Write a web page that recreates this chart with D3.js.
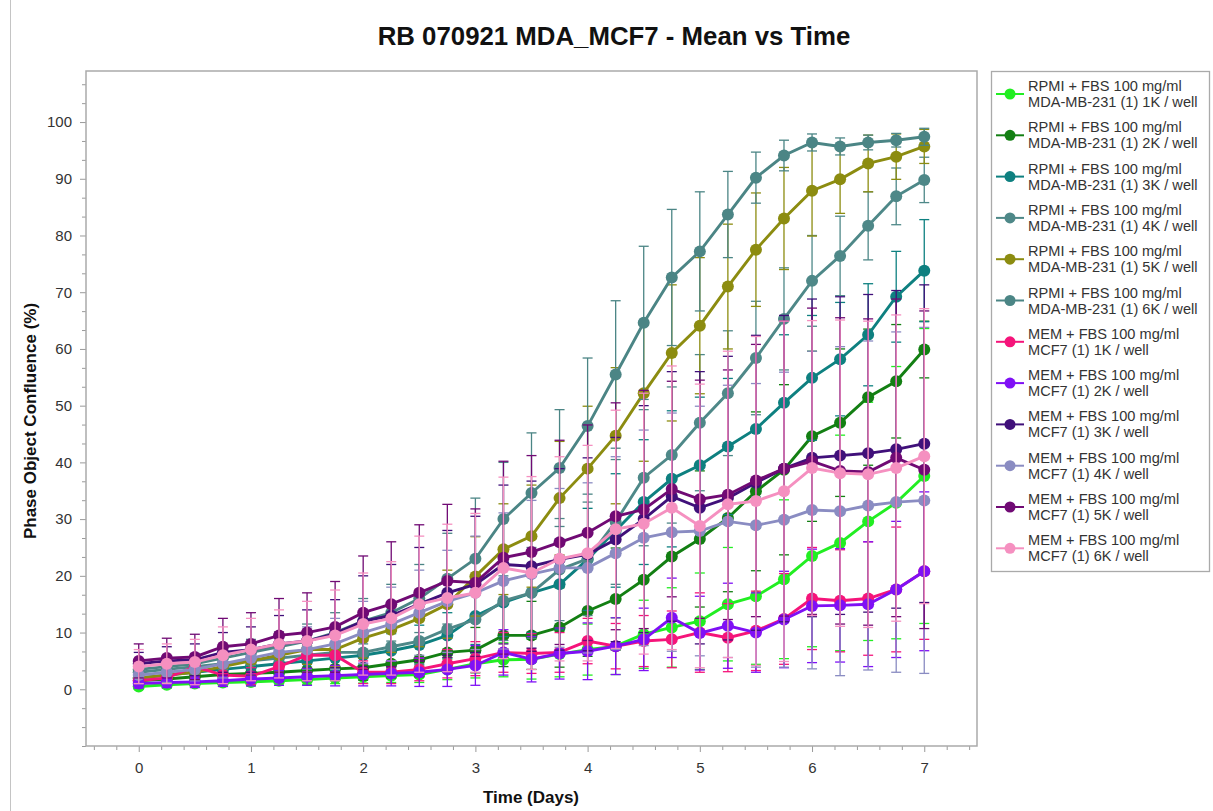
<!DOCTYPE html>
<html>
<head>
<meta charset="utf-8">
<script src="https://cdn.jsdelivr.net/npm/d3@7"></script>
<style>
  body { margin: 0; background: #fff; }
  svg { display: block; font-family: "Liberation Sans", Arial, sans-serif; }
</style>
</head>
<body>
<div id="chart"></div>
<script>
// time points (days)
const times = [0, 0.25, 0.5, 0.75, 1, 1.25, 1.5, 1.75, 2, 2.25, 2.5, 2.75, 3, 3.25, 3.5, 3.75, 4, 4.25, 4.5, 4.75, 5, 5.25, 5.5, 5.75, 6, 6.25, 6.5, 6.75, 7];

const xTicks = [0, 1, 2, 3, 4, 5, 6, 7];
const yTicks = [0, 10, 20, 30, 40, 50, 60, 70, 80, 90, 100];

const mediumLabels = [
  "RPMI + FBS 100 mg/ml", "RPMI + FBS 100 mg/ml", "RPMI + FBS 100 mg/ml",
  "RPMI + FBS 100 mg/ml", "RPMI + FBS 100 mg/ml", "RPMI + FBS 100 mg/ml",
  "MEM + FBS 100 mg/ml", "MEM + FBS 100 mg/ml", "MEM + FBS 100 mg/ml",
  "MEM + FBS 100 mg/ml", "MEM + FBS 100 mg/ml", "MEM + FBS 100 mg/ml"
];
const cellLabels = [
  "MDA-MB-231 (1) 1K / well", "MDA-MB-231 (1) 2K / well", "MDA-MB-231 (1) 3K / well",
  "MDA-MB-231 (1) 4K / well", "MDA-MB-231 (1) 5K / well", "MDA-MB-231 (1) 6K / well",
  "MCF7 (1) 1K / well", "MCF7 (1) 2K / well", "MCF7 (1) 3K / well",
  "MCF7 (1) 4K / well", "MCF7 (1) 5K / well", "MCF7 (1) 6K / well"
];
const colors = ["#22ee22", "#137f13", "#0e8080", "#4e8888", "#8c8c10", "#4b8585",
                "#f5147a", "#7f10f5", "#40107a", "#8a8cc2", "#700a74", "#f590c0"];

// mean confluence (%)
const mda1k = [0.5, 0.8, 1.0, 1.2, 1.3, 1.5, 1.7, 2.0, 2.2, 2.4, 2.6, 3.5, 4.5, 5.2, 5.3, 6.2, 7.0, 7.6, 9.7, 10.9, 12.0, 15.0, 16.4, 19.4, 23.5, 25.8, 29.6, 32.9, 37.6];
const mda2k = [1.5, 1.8, 2.2, 2.6, 2.8, 3.0, 3.3, 3.6, 3.8, 4.5, 5.2, 6.5, 6.9, 9.5, 9.5, 10.9, 13.8, 15.9, 19.3, 23.4, 26.5, 30.2, 34.9, 38.7, 44.6, 47.0, 51.5, 54.3, 59.9];
const mda3k = [2.0, 2.5, 3.0, 3.5, 4.0, 4.5, 5.0, 5.5, 6.0, 6.8, 7.8, 9.5, 12.9, 15.3, 17.0, 18.5, 22.9, 28.0, 33.0, 37.1, 39.5, 42.8, 45.9, 50.5, 54.9, 58.2, 62.5, 69.2, 73.8];
const mda4k = [3.0, 3.5, 4.0, 4.5, 5.0, 5.5, 6.0, 6.5, 6.5, 7.5, 8.5, 10.6, 12.3, 15.6, 17.0, 21.1, 23.0, 29.5, 37.3, 41.3, 47.0, 52.2, 58.4, 65.3, 72.0, 76.4, 81.7, 86.9, 89.8];
const mda5k = [2.0, 2.5, 3.0, 4.0, 5.0, 6.0, 7.0, 7.0, 9.0, 10.5, 12.5, 15.0, 19.9, 24.7, 27.0, 33.7, 38.9, 44.7, 52.2, 59.3, 64.1, 71.0, 77.5, 83.0, 87.9, 89.9, 92.7, 93.9, 95.7];
const mda6k = [3.5, 4.0, 4.5, 5.5, 6.5, 7.5, 8.5, 10.0, 12.0, 13.5, 16.0, 19.5, 23.0, 30.0, 34.6, 39.0, 46.4, 55.5, 64.6, 72.6, 77.2, 83.7, 90.2, 94.1, 96.4, 95.7, 96.4, 96.8, 97.4];
const mcf1k = [1.5, 2.0, 4.0, 2.5, 2.3, 4.0, 6.0, 6.0, 3.0, 3.0, 3.5, 4.5, 5.4, 6.5, 6.3, 6.5, 8.5, 7.6, 8.5, 8.8, 10.0, 9.1, 10.3, 12.4, 16.0, 15.6, 16.0, 17.6, 20.8];
const mcf2k = [1.0, 1.2, 1.3, 1.5, 1.8, 2.0, 2.2, 2.4, 2.6, 2.8, 3.0, 3.5, 4.2, 6.5, 5.3, 6.3, 6.7, 7.6, 8.8, 12.6, 9.9, 11.2, 10.0, 12.3, 14.7, 14.8, 15.0, 17.6, 20.8];
const mcf3k = [4.5, 5.0, 5.2, 6.5, 7.0, 8.0, 8.5, 9.8, 12.0, 13.0, 15.0, 17.0, 18.5, 22.0, 21.7, 22.9, 23.8, 26.4, 30.0, 34.0, 32.0, 33.7, 36.4, 38.9, 40.8, 41.2, 41.6, 42.3, 43.3];
const mcf4k = [2.5, 3.0, 3.5, 4.5, 5.5, 6.5, 7.0, 8.0, 10.0, 11.5, 13.5, 15.5, 17.0, 19.1, 20.3, 21.4, 21.4, 24.0, 26.7, 27.7, 27.9, 29.6, 28.9, 29.9, 31.6, 31.4, 32.4, 33.0, 33.3];
const mcf5k = [5.0, 5.5, 5.7, 7.5, 8.0, 9.5, 10.0, 11.0, 13.5, 15.0, 17.0, 19.1, 18.8, 23.2, 24.2, 25.9, 27.6, 30.5, 31.7, 35.3, 33.5, 34.3, 36.8, 38.9, 40.2, 38.5, 38.3, 40.8, 38.7];
const mcf6k = [4.0, 4.5, 4.8, 6.0, 7.0, 8.0, 8.5, 9.5, 11.5, 12.5, 15.0, 16.1, 17.0, 21.4, 20.5, 23.0, 24.0, 28.2, 29.2, 32.0, 28.8, 32.6, 33.2, 34.9, 39.0, 38.1, 37.9, 39.0, 41.1];

// standard deviations
const mda1kSd = [0.5, 0.6, 0.6, 0.7, 0.7, 0.8, 0.9, 1.0, 1.1, 1.2, 1.4, 1.8, 2.5, 3.0, 3.5, 4.0, 4.5, 5.0, 6.0, 7.0, 8.5, 10.0, 12.0, 14.0, 16.0, 19.0, 21.0, 24.0, 26.0];
const mda2kSd = [1.0, 1.0, 1.2, 1.3, 1.5, 1.6, 1.8, 2.0, 2.2, 2.5, 3.0, 3.5, 4.0, 5.5, 6.0, 7.0, 8.0, 9.0, 10.0, 11.0, 12.0, 13.0, 14.0, 15.0, 15.0, 13.0, 12.0, 10.0, 5.0];
const mda3kSd = [1.2, 1.2, 1.3, 1.5, 1.6, 1.8, 2.0, 2.2, 2.5, 3.0, 3.5, 4.0, 5.0, 6.0, 7.0, 8.0, 9.0, 10.0, 11.0, 12.0, 12.0, 12.0, 12.0, 12.0, 11.0, 10.0, 9.0, 8.0, 9.0];
const mda4kSd = [1.5, 1.5, 1.6, 1.8, 2.0, 2.2, 2.5, 2.8, 3.0, 3.5, 4.0, 5.0, 6.0, 7.0, 8.0, 9.0, 10.0, 11.0, 12.0, 12.0, 12.0, 11.0, 10.0, 9.0, 8.0, 7.0, 6.0, 5.0, 4.0];
const mda5kSd = [1.2, 1.3, 1.5, 1.7, 2.0, 2.3, 2.6, 3.0, 3.5, 4.0, 5.0, 6.0, 7.0, 8.0, 9.0, 10.0, 11.0, 12.0, 12.0, 12.0, 12.0, 11.0, 10.0, 9.0, 8.0, 6.0, 5.0, 4.0, 3.0];
const mda6kSd = [1.5, 1.6, 1.8, 2.0, 2.3, 2.6, 3.0, 3.5, 4.0, 5.0, 6.0, 8.0, 10.7, 10.0, 10.6, 10.3, 12.0, 13.0, 13.5, 12.0, 10.5, 7.6, 4.5, 2.7, 1.5, 1.5, 1.3, 1.2, 1.5];
const mcf1kSd = [1.0, 1.0, 2.0, 1.5, 1.5, 2.0, 3.0, 3.0, 2.0, 2.0, 2.0, 2.5, 3.0, 3.5, 3.5, 3.5, 4.0, 4.0, 4.5, 5.0, 7.0, 6.0, 7.0, 8.0, 9.0, 9.0, 10.0, 11.0, 12.0];
const mcf2kSd = [0.8, 0.9, 1.0, 1.0, 1.2, 1.3, 1.5, 1.8, 2.0, 2.2, 2.5, 3.0, 3.5, 4.0, 4.0, 4.5, 5.0, 5.0, 5.5, 7.0, 6.5, 7.5, 7.0, 8.5, 10.0, 10.0, 11.0, 12.0, 14.0];
const mcf3kSd = [2.0, 2.5, 2.8, 3.5, 4.0, 5.0, 5.5, 6.0, 8.0, 9.0, 10.0, 11.0, 12.0, 14.0, 15.0, 16.0, 17.0, 18.0, 20.0, 22.0, 24.0, 25.0, 26.0, 27.0, 28.0, 28.0, 28.0, 28.0, 28.0];
const mcf4kSd = [1.5, 1.8, 2.0, 2.5, 3.0, 3.5, 4.0, 4.5, 5.5, 6.5, 7.5, 9.0, 10.0, 12.0, 13.0, 14.0, 15.0, 17.0, 19.0, 21.0, 22.0, 24.0, 25.0, 26.0, 28.0, 29.0, 29.0, 30.0, 30.5];
const mcf5kSd = [3.0, 3.5, 4.0, 5.0, 5.5, 6.5, 7.0, 8.0, 10.0, 11.0, 12.0, 13.5, 13.0, 17.0, 17.0, 18.0, 19.0, 20.0, 21.0, 19.0, 21.0, 22.0, 24.0, 26.0, 27.0, 27.0, 27.0, 28.0, 28.0];
const mcf6kSd = [3.0, 3.5, 4.0, 5.0, 5.5, 6.0, 7.0, 8.0, 9.0, 10.0, 12.0, 13.0, 14.0, 16.0, 17.0, 18.0, 19.0, 21.0, 23.0, 25.0, 25.0, 27.0, 29.0, 30.0, 26.0, 27.0, 27.0, 27.0, 26.0];

const means = [mda1k, mda2k, mda3k, mda4k, mda5k, mda6k, mcf1k, mcf2k, mcf3k, mcf4k, mcf5k, mcf6k];
const sds = [mda1kSd, mda2kSd, mda3kSd, mda4kSd, mda5kSd, mda6kSd, mcf1kSd, mcf2kSd, mcf3kSd, mcf4kSd, mcf5kSd, mcf6kSd];

const series = means.map((m, i) => ({
  color: colors[i],
  medium: mediumLabels[i],
  cells: cellLabels[i],
  points: times.map((t, j) => ({ t: t, v: m[j], sd: sds[i][j] }))
}));

const width = 1213, height = 811;
const plot = { left: 86, right: 977, top: 71, bottom: 746 };

const svg = d3.select("#chart").append("svg")
  .attr("width", width)
  .attr("height", height);

// outer panel border
svg.append("rect")
  .attr("x", 10.5).attr("y", -5)
  .attr("width", 1300).attr("height", 900)
  .attr("fill", "none").attr("stroke", "#c4c4c4");

const x = d3.scaleLinear().domain([-0.47, 7.47]).range([plot.left, plot.right]);
const y = d3.scaleLinear().domain([-10, 109]).range([plot.bottom, plot.top]);

// title
svg.append("text")
  .attr("x", 614).attr("y", 45)
  .attr("text-anchor", "middle")
  .attr("font-size", 25.8).attr("font-weight", "bold")
  .attr("fill", "#111")
  .text("RB 070921 MDA_MCF7 - Mean vs Time");

// axes
const axisColor = "#9a9a9a";
const yMinor = d3.range(-10, 109, 10 / 3).filter(v => !yTicks.some(t => Math.abs(t - v) < 0.01));
const xMinor = d3.range(-0.4, 7.45, 0.2).filter(v => !xTicks.some(t => Math.abs(t - v) < 0.01));

const gy = svg.append("g").attr("transform", `translate(${plot.left},0)`);
gy.call(d3.axisLeft(y).tickValues(yTicks).tickSize(6).tickPadding(8));
gy.append("g").call(d3.axisLeft(y).tickValues(yMinor).tickSize(4).tickFormat(""));

const gx = svg.append("g").attr("transform", `translate(0,${plot.bottom})`);
gx.call(d3.axisBottom(x).tickValues(xTicks).tickSize(6).tickPadding(10));
gx.append("g").call(d3.axisBottom(x).tickValues(xMinor).tickSize(4).tickFormat(""));

svg.selectAll(".domain").remove();
svg.selectAll(".tick line").attr("stroke", axisColor);
svg.selectAll(".tick text")
  .attr("font-family", "'Liberation Sans', Arial, sans-serif")
  .attr("font-size", 15).attr("fill", "#333");

// plot frame
svg.append("rect")
  .attr("x", plot.left).attr("y", plot.top)
  .attr("width", plot.right - plot.left).attr("height", plot.bottom - plot.top)
  .attr("fill", "none").attr("stroke", "#aaaaaa").attr("stroke-width", 1.5);

// axis titles
svg.append("text")
  .attr("x", 531).attr("y", 803)
  .attr("text-anchor", "middle")
  .attr("font-size", 17).attr("font-weight", "bold").attr("fill", "#111")
  .text("Time (Days)");

svg.append("text")
  .attr("transform", "translate(36,421) rotate(-90)")
  .attr("text-anchor", "middle")
  .attr("font-size", 17).attr("font-weight", "bold").attr("fill", "#111")
  .text("Phase Object Confluence (%)");

// series
const line = d3.line().x(d => x(d.t)).y(d => y(d.v));
const cap = 5;

const gs = svg.append("g").selectAll("g").data(series).join("g");

gs.each(function(s) {
  const g = d3.select(this);
  const eb = g.append("g").attr("stroke", s.color).attr("stroke-width", 1.3);
  s.points.forEach(p => {
    const lo = y(p.v - p.sd), hi = y(p.v + p.sd), cx = x(p.t);
    eb.append("line").attr("x1", cx).attr("x2", cx).attr("y1", lo).attr("y2", hi);
    eb.append("line").attr("x1", cx - cap).attr("x2", cx + cap).attr("y1", lo).attr("y2", lo);
    eb.append("line").attr("x1", cx - cap).attr("x2", cx + cap).attr("y1", hi).attr("y2", hi);
  });
  g.append("path")
    .attr("d", line(s.points))
    .attr("fill", "none")
    .attr("stroke", s.color)
    .attr("stroke-width", 2.9);
  g.selectAll("circle").data(s.points).join("circle")
    .attr("cx", d => x(d.t))
    .attr("cy", d => y(d.v))
    .attr("r", 6)
    .attr("fill", s.color);
});

// legend
const legend = svg.append("g");
legend.append("rect")
  .attr("x", 991.5).attr("y", 71.5)
  .attr("width", 218).attr("height", 500)
  .attr("fill", "#fff").attr("stroke", "#aaaaaa").attr("stroke-width", 1.3);

const items = legend.selectAll("g.item").data(series).join("g")
  .attr("class", "item")
  .attr("transform", (d, i) => `translate(0,${94 + i * 41.3})`);

items.append("line")
  .attr("x1", 996).attr("x2", 1024)
  .attr("stroke", d => d.color).attr("stroke-width", 2);
items.append("circle")
  .attr("cx", 1010).attr("r", 5.5)
  .attr("fill", d => d.color);
const lt = items.append("text")
  .attr("font-size", 14.6).attr("fill", "#333");
lt.append("tspan").attr("x", 1028).attr("y", -3).text(d => d.medium);
lt.append("tspan").attr("x", 1028).attr("y", 13).text(d => d.cells);
</script>
</body>
</html>
